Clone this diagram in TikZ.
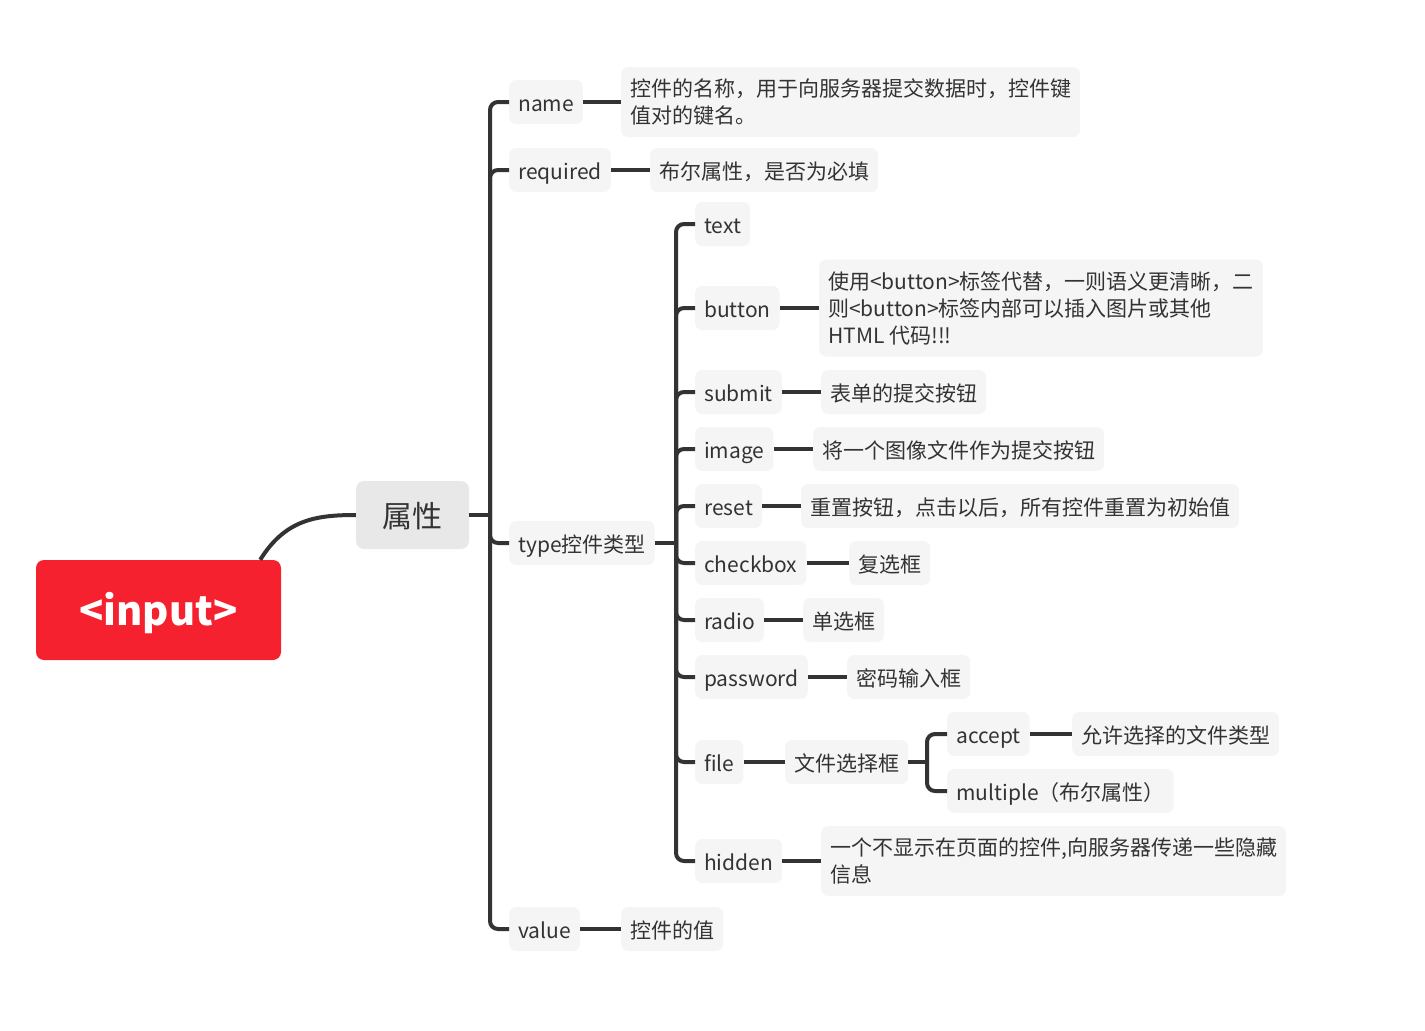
\documentclass[tikz,border=0pt]{standalone}
\usepackage{fontspec}
\setmainfont{Noto Sans CJK SC}
\usetikzlibrary{calc}
\definecolor{redbox}{HTML}{F5212F}
\definecolor{midgray}{HTML}{E8E8E8}
\definecolor{lightgray}{HTML}{F5F5F5}
\definecolor{txt}{HTML}{333333}
\definecolor{lc}{HTML}{333333}
\tikzset{
  lvl/.style={fill=lightgray, rounded corners=7pt, inner xsep=9pt, inner ysep=0pt,
    minimum height=44pt, anchor=west, text=txt, align=left,
    text height=22pt, text depth=4pt,
    font=\fontsize{21}{27}\selectfont},
  lvlm/.style={lvl, text height=, text depth=},
  conn/.style={draw=lc, line width=4pt},
  bar/.style={draw=lc, line width=4pt, rounded corners=8pt},
}
\begin{document}
\begin{tikzpicture}[x=1pt,y=-1pt]
\useasboundingbox (0,0) rectangle (1425,1031);
% root
\node[fill=redbox, rounded corners=8pt, minimum width=245pt, minimum height=100pt,
  text=white, text height=36pt, text depth=6pt,
  font=\fontsize{40}{42}\selectfont\bfseries] (I) at (158.5,610) {<input>};
\node[fill=midgray, rounded corners=8pt, minimum width=113pt, minimum height=68pt,
  text=txt, text height=28pt, text depth=4pt,
  font=\fontsize{30}{32}\selectfont] (P) at (412.5,515) {属性};
\coordinate (Ic) at ($(I.north east)+(-21,0)$);
\draw[conn] (Ic) .. controls (285,520) and (315,515) .. (P.west);
% level 2
\node[lvl] (name) at (509,102) {name};
\node[lvlm, minimum height=70pt] (named) at (621,102) {控件的名称，用于向服务器提交数据时，控件键\\值对的键名。};
\node[lvl] (req) at (509,170) {required};
\node[lvl] (reqd) at (650,170) {布尔属性，是否为必填};
\node[lvl] (type) at (509,543) {type控件类型};
\node[lvl] (val) at (509,929) {value};
\node[lvl] (vald) at (621,929) {控件的值};
\coordinate (J1) at (490,515);
\draw[conn] (P.east) -- (J1);
\foreach \n in {name,req,type,val}{
  \draw[bar] (J1) |- (\n.west);
}
\draw[conn] (name.east) -- (named.west);
\draw[conn] (req.east) -- (reqd.west);
\draw[conn] (val.east) -- (vald.west);
% level 3
\node[lvl] (text) at (695,224) {text};
\node[lvl] (button) at (695,308) {button};
\node[lvlm, minimum height=97pt] (buttond) at (819,308) {使用<button>标签代替，一则语义更清晰，二\\则<button>标签内部可以插入图片或其他\\HTML 代码!!!};
\node[lvl] (submit) at (695,392) {submit};
\node[lvl] (submitd) at (821,392) {表单的提交按钮};
\node[lvl] (image) at (695,449) {image};
\node[lvl] (imaged) at (813,449) {将一个图像文件作为提交按钮};
\node[lvl] (reset) at (695,506) {reset};
\node[lvl] (resetd) at (801,506) {重置按钮，点击以后，所有控件重置为初始值};
\node[lvl] (checkbox) at (695,563) {checkbox};
\node[lvl] (checkboxd) at (849,563) {复选框};
\node[lvl] (radio) at (695,620) {radio};
\node[lvl] (radiod) at (803,620) {单选框};
\node[lvl] (password) at (695,677) {password};
\node[lvl] (passwordd) at (847,677) {密码输入框};
\node[lvl] (file) at (695,762) {file};
\node[lvl] (filed) at (785,762) {文件选择框};
\node[lvl] (hidden) at (695,861) {hidden};
\node[lvlm, minimum height=70pt] (hiddend) at (821,861) {一个不显示在页面的控件,向服务器传递一些隐藏\\信息};
\coordinate (J2) at (676,543);
\draw[conn] (type.east) -- (J2);
\foreach \n in {text,button,submit,image,reset,checkbox,radio,password,file,hidden}{
  \draw[bar] (J2) |- (\n.west);
}
\foreach \n in {button,submit,image,reset,checkbox,radio,password,file,hidden}{
  \draw[conn] (\n.east) -- (\n d.west);
}
% level 4
\node[lvl] (accept) at (947,734) {accept};
\node[lvl] (acceptd) at (1072,734) {允许选择的文件类型};
\node[lvl] (multi) at (947,791) {multiple（布尔属性）};
\coordinate (J3) at (927,762);
\draw[conn] (filed.east) -- (J3);
\foreach \n in {accept,multi}{
  \draw[bar] (J3) |- (\n.west);
}
\draw[conn] (accept.east) -- (acceptd.west);
\end{tikzpicture}
\end{document}
